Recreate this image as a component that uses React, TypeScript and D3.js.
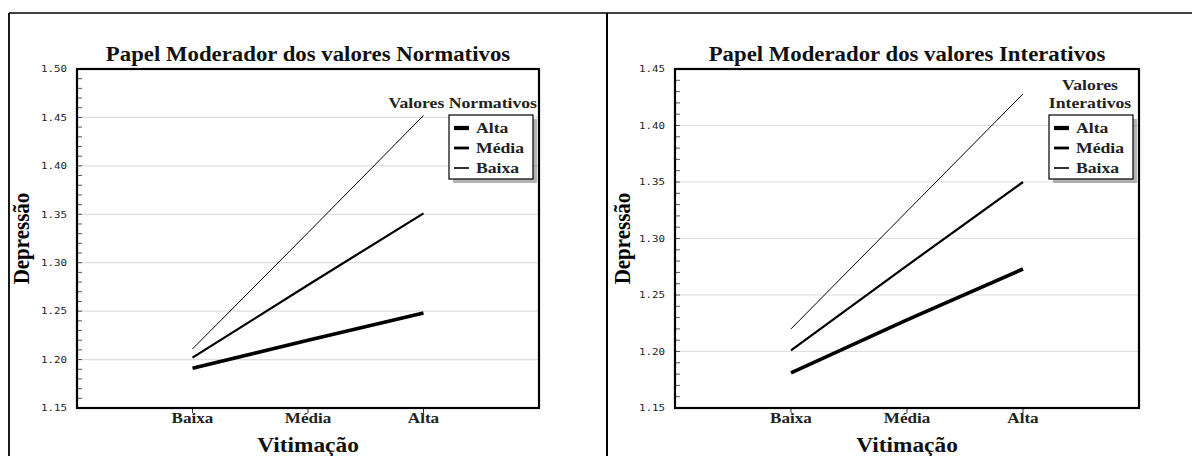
import * as d3 from 'd3';
import type { ReactNode } from 'react';

const categories = ['Baixa', 'Média', 'Alta'];
const levels = ['Alta', 'Média', 'Baixa'];

// Papel Moderador dos valores Normativos
const normAlta = [1.191, 1.22, 1.248];
const normMedia = [1.202, 1.277, 1.351];
const normBaixa = [1.211, 1.331, 1.452];

// Papel Moderador dos valores Interativos
const intAlta = [1.181, 1.228, 1.273];
const intMedia = [1.201, 1.276, 1.35];
const intBaixa = [1.22, 1.324, 1.428];

const normTicks = [1.15, 1.2, 1.25, 1.3, 1.35, 1.4, 1.45, 1.5];
const intTicks = [1.15, 1.2, 1.25, 1.3, 1.35, 1.4, 1.45];

const widths: Record<string, number> = { Alta: 3.6, 'Média': 2.2, Baixa: 1 };
const serif = '"Liberation Serif", "Times New Roman", serif';
// the source picture is stretched sideways, so the text is too
const SX = 1.14;

interface TProps {
  x: number;
  y: number;
  size: number;
  anchor?: string;
  mono?: boolean;
  fill?: string;
  dy?: string;
  children: ReactNode;
}

function T({ x, y, size, anchor = 'start', mono = false, fill = '#111', dy, children }: TProps) {
  return (
    <text transform={`translate(${x},${y}) scale(${SX},1)`} textAnchor={anchor} dy={dy}
      fontFamily={mono ? '"DejaVu Sans Mono", monospace' : serif}
      fontWeight={mono ? 'normal' : 'bold'} fontSize={size} fill={fill}>
      {children}
    </text>
  );
}

interface PanelProps {
  title: string;
  legendTitle: string[];
  series: number[][];
  ticks: number[];
  left: number;
  right: number;
  axisLabelX: number;
}

function Panel({ title, legendTitle, series, ticks, left, right, axisLabelX }: PanelProps) {
  const top = 69;
  const bottom = 408;
  const yMin = ticks[0];
  const yMax = ticks[ticks.length - 1];
  const x = d3.scalePoint<string>().domain(categories).range([left, right]).padding(1);
  const y = d3.scaleLinear().domain([yMin, yMax]).range([bottom, top]);
  const minor = d3.range(Math.round(yMin * 100), Math.round(yMax * 100) + 1).map(v => v / 100);
  const line = d3.line<number>()
    .x((_, i) => x(categories[i]) as number)
    .y(d => y(d));
  const cx = (left + right) / 2;
  const bw = 84;
  const bx = right - 90;
  const by = 115;

  return (
    <g>
      {ticks.slice(1, -1).map(t => (
        <line key={'g' + t} x1={left} x2={right} y1={y(t)} y2={y(t)} stroke="#dedede" strokeWidth={1.2} />
      ))}
      {minor.map(t => (
        <line key={'m' + t} x1={left} x2={left + 5} y1={y(t)} y2={y(t)} stroke="#444" strokeWidth={0.9} />
      ))}
      {ticks.map(t => (
        <T key={'t' + t} x={left - 10} y={y(t)} dy="0.35em" anchor="end" mono size={9.5} fill="#222">
          {t.toFixed(2)}
        </T>
      ))}
      {categories.map(c => (
        <g key={c}>
          <line x1={x(c)} x2={x(c)} y1={bottom} y2={bottom + 5} stroke="#333" strokeWidth={1} />
          <T x={x(c) as number} y={bottom + 15} anchor="middle" size={15} fill="#222">{c}</T>
        </g>
      ))}
      {series.map((s, i) => (
        <path key={levels[i]} d={line(s) || ''} fill="none" stroke="#000"
          strokeWidth={widths[levels[i]]} />
      ))}
      <rect x={left} y={top} width={right - left} height={bottom - top} fill="none" stroke="#000" strokeWidth={2.2} />
      <T x={cx} y={61} anchor="middle" size={20}>{title}</T>
      <T x={cx} y={452} anchor="middle" size={20.5}>Vitimação</T>
      <text transform={`translate(${axisLabelX},${(top + bottom) / 2}) rotate(-90) scale(1,${SX})`}
        textAnchor="middle" dy="0.35em" fontFamily={serif} fontWeight="bold" fontSize={21}>Depressão</text>
      {legendTitle.length === 1 ? (
        <T x={right - 2} y={108} anchor="end" size={15.5} fill="#222">{legendTitle[0]}</T>
      ) : (
        legendTitle.map((t, i) => (
          <T key={t} x={right - 49} y={90 + i * 18} anchor="middle" size={15.5} fill="#222">{t}</T>
        ))
      )}
      <rect x={bx + 4} y={by + 4} width={bw} height={64} fill="#777" opacity={0.55} />
      <rect x={bx} y={by} width={bw} height={64} fill="#fff" stroke="#000" strokeWidth={1.2} />
      {levels.map((l, i) => (
        <g key={l}>
          <line x1={bx + 5} x2={bx + 20} y1={by + 13 + i * 20} y2={by + 13 + i * 20} stroke="#000"
            strokeWidth={widths[l] + 0.6} />
          <T x={bx + 27} y={by + 13 + i * 20} dy="0.35em" size={15.5} fill="#222">{l}</T>
        </g>
      ))}
    </g>
  );
}

export default function App() {
  return (
    <svg width={1192} height={456} style={{ position: 'absolute', left: 0, top: 0, background: '#fff' }}>
      <rect width={1192} height={456} fill="#fff" />
      <line x1={9} x2={1192} y1={13} y2={13} stroke="#000" strokeWidth={1.5} />
      <line x1={9} x2={9} y1={13} y2={456} stroke="#000" strokeWidth={1.8} />
      <line x1={607} x2={607} y1={13} y2={456} stroke="#000" strokeWidth={2} />
      <Panel title="Papel Moderador dos valores Normativos" legendTitle={['Valores Normativos']}
        series={[normAlta, normMedia, normBaixa]} ticks={normTicks} left={77} right={539} axisLabelX={21} />
      <Panel title="Papel Moderador dos valores Interativos" legendTitle={['Valores', 'Interativos']}
        series={[intAlta, intMedia, intBaixa]} ticks={intTicks} left={675} right={1139} axisLabelX={622} />
    </svg>
  );
}
